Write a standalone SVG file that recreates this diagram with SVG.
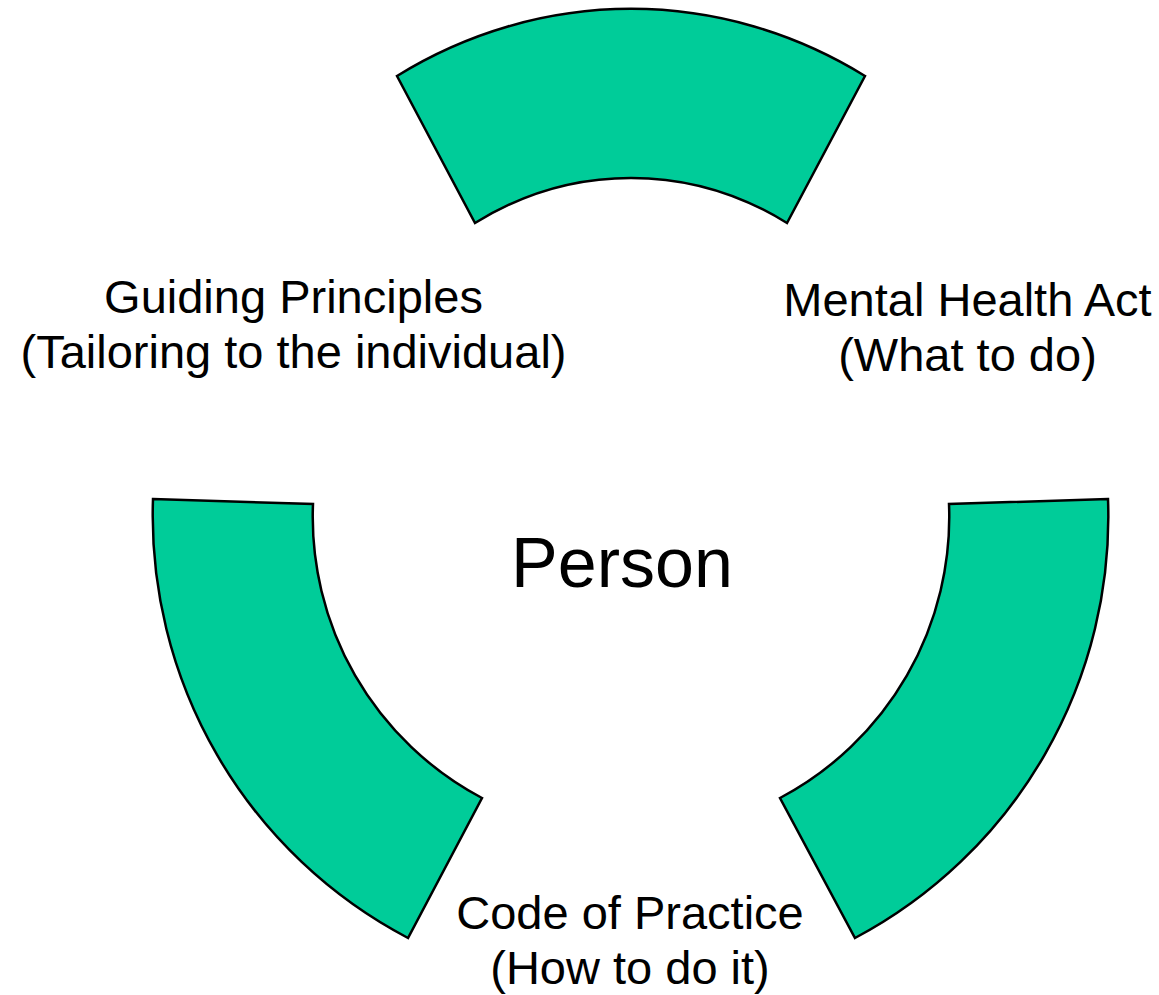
<svg xmlns="http://www.w3.org/2000/svg" width="1159" height="995" viewBox="0 0 1159 995">
<style>
.arc{fill:#00CC99;stroke:#000;stroke-width:2.5;stroke-linejoin:miter}
.lbl{font-family:"Liberation Sans",Arial,sans-serif;font-size:47px;fill:#000;text-anchor:middle}
.big{font-family:"Liberation Sans",Arial,sans-serif;font-size:70px;fill:#000;text-anchor:middle}
</style>
<rect width="1159" height="995" fill="#fff"/>
<g id="arc-top"><path class="arc" d="M397,76 A471,508 0 0 1 865,76 L787,223 A313,339 0 0 0 475,223 Z"/></g>
<g id="arc-left"><path class="arc" d="M153,499 L313,504 A318,318 0 0 0 482,798 L408,938 A477,477 0 0 1 153,499 Z"/></g>
<g id="arc-right"><path class="arc" d="M1108,499 L949,504 A318,318 0 0 1 780,798 L855,938 A477,477 0 0 0 1108,499 Z"/></g>
<g id="connectors"></g>
<g id="label-guiding"><text class="lbl" x="293.5" y="313">Guiding Principles</text><text class="lbl" x="293.5" y="368">(Tailoring to the individual)</text></g>
<g id="label-mha"><text class="lbl" x="967.5" y="316">Mental Health Act</text><text class="lbl" x="967.5" y="371">(What to do)</text></g>
<g id="label-code"><text class="lbl" x="630" y="929">Code of Practice</text><text class="lbl" x="630" y="984">(How to do it)</text></g>
<g id="person"><text class="big" x="622" y="587">Person</text></g>
</svg>
